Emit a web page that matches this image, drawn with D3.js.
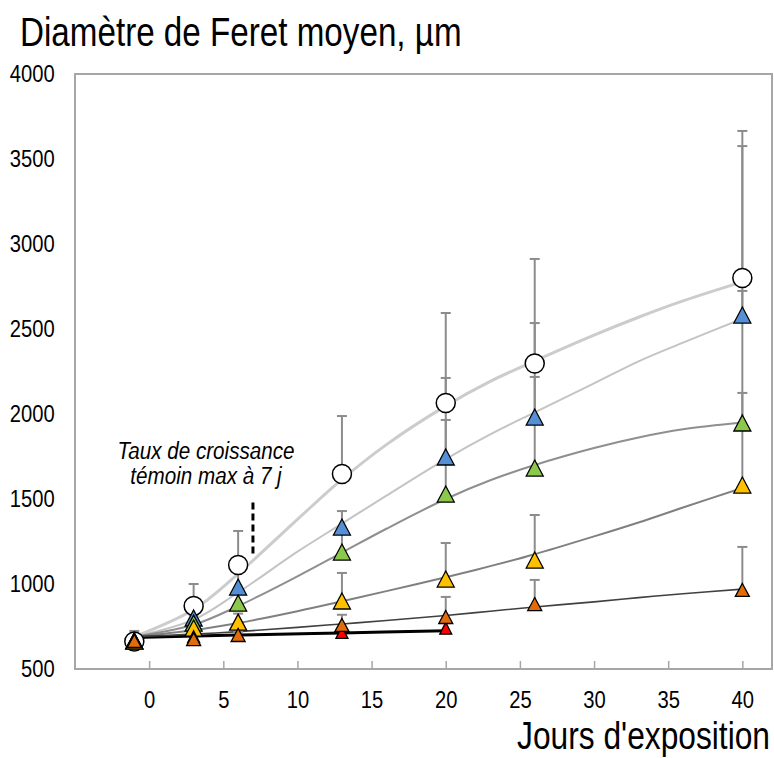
<!DOCTYPE html>
<html>
<head>
<meta charset="utf-8">
<script src="https://cdn.jsdelivr.net/npm/d3@7"></script>
<style>
  html, body { margin: 0; padding: 0; background: #fff; }
  svg { display: block; }
  text { font-family: "Liberation Sans", Arial, sans-serif; fill: #000; }
</style>
</head>
<body>
<svg id="chart" width="774" height="758"></svg>
<script>
// Sampling days and mean Feret diameter (µm) per condition
const days = [-1, 3, 6, 13, 20, 26, 40];
const daysRed = [-1, 3, 6, 13, 20];

const controlMean = [662, 871, 1112, 1647, 2065, 2297, 2800];
const blueMean    = [665, 800, 982, 1335, 1747, 1982, 2582];
const greenMean   = [665, 770, 888, 1188, 1529, 1682, 1947];
const yellowMean  = [665, 741, 776, 900, 1029, 1141, 1582];
const orangeMean  = [665, 676, 700, 759, 806, 882, 965];
const redMean     = [665, 690, 700, 715, 740];

// Upper error (standard deviation), plotted above each mean
const controlErr = [62, 129, 200, 341, 529, 615, 865];
const blueErr    = [30, 60, 100, 94, 465, 553, 994];
const greenErr   = [30, 50, 80, 120, 436, 536, 777];
const yellowErr  = [30, 40, 50, 165, 212, 265, 542];
const orangeErr  = [30, 30, 40, 60, 118, 142, 253];
const redErr     = [20, 20, 20, 20, 30];

// Fitted growth curves
const fitDays      = [-1, 3, 6, 10, 13, 16, 20, 23, 26, 30, 33, 36, 40];
const controlFit   = [690, 850, 1060, 1380, 1615, 1820, 2048, 2192, 2312, 2464, 2569, 2665, 2777];
const blueFit      = [690, 790, 950, 1190, 1355, 1520, 1735, 1880, 2010, 2180, 2310, 2420, 2560];
const greenFit     = [690, 760, 870, 1045, 1185, 1325, 1500, 1610, 1700, 1800, 1862, 1910, 1950];
const yellowFit    = [690, 728, 770, 840, 898, 958, 1040, 1105, 1175, 1280, 1362, 1450, 1565];
const orangeFit    = [690, 705, 720, 745, 765, 785, 815, 840, 865, 895, 920, 943, 970];
const redFitDays   = [-1, 6, 13, 20];
const redFit       = [685, 700, 712, 725];

// Axis ticks
const xTicks = [0, 5, 10, 15, 20, 25, 30, 35, 40];
const yTicks = [500, 1000, 1500, 2000, 2500, 3000, 3500, 4000];

// Annotation: day of maximal control growth rate
const markerDay = 7;
const markerRange = [1180, 1480];

const svg = d3.select("#chart");
const plotL = 75, plotR = 772, plotT = 74, plotB = 669;

const x = d3.scaleLinear().domain([-5, 42]).range([plotL, plotR]);
const y = d3.scaleLinear().domain([500, 4000]).range([plotB, plotT]);

// Narrow text: regular sans squeezed horizontally
const narrowTick = 0.86;

// Frame
svg.append("rect")
  .attr("x", plotL).attr("y", plotT)
  .attr("width", plotR - plotL).attr("height", plotB - plotT)
  .attr("fill", "#fff").attr("stroke", "#a6a6a6").attr("stroke-width", 2);

// X axis: ticks pointing inward, labels below
const xAxis = svg.append("g").attr("transform", `translate(0,${plotB})`)
  .call(d3.axisBottom(x).tickValues(xTicks).tickSizeInner(-8).tickSizeOuter(0).tickPadding(22));
xAxis.select(".domain").remove();
xAxis.selectAll(".tick line").attr("stroke", "#a6a6a6").attr("stroke-width", 1.5);
xAxis.selectAll(".tick text").attr("font-size", 23.5)
  .attr("transform", `scale(${narrowTick},1)`)
  .style("font-family", "'Liberation Sans', Arial, sans-serif");

// Y axis: labels only
const yAxis = svg.append("g").attr("transform", `translate(${plotL},0)`)
  .call(d3.axisLeft(y).tickValues(yTicks).tickSize(0).tickPadding(23.5).tickFormat(d3.format("d")));
yAxis.select(".domain").remove();
yAxis.selectAll(".tick text").attr("font-size", 23.5)
  .attr("transform", `scale(${narrowTick},1)`)
  .style("font-family", "'Liberation Sans', Arial, sans-serif");

// Titles
svg.append("text").attr("transform", "translate(20,46) scale(0.83,1)")
  .attr("font-size", 40).text("Diamètre de Feret moyen, µm");
svg.append("text").attr("transform", "translate(770,749) scale(0.835,1)")
  .attr("text-anchor", "end")
  .attr("font-size", 38).text("Jours d'exposition");

// Series definitions (listed in drawing order)
const control = { mean: controlMean, err: controlErr, d: days, fitD: fitDays, fit: controlFit,
    line: "#cccccc", lw: 3, shape: "circle", fill: "#ffffff", size: [19, 19] };
const blue = { mean: blueMean, err: blueErr, d: days, fitD: fitDays, fit: blueFit,
    line: "#c4c4c4", lw: 2, shape: "tri", fill: "#5590d6", size: [17, 16] };
const green = { mean: greenMean, err: greenErr, d: days, fitD: fitDays, fit: greenFit,
    line: "#8f8f8f", lw: 2, shape: "tri", fill: "#8cc84b", size: [17, 16] };
const yellow = { mean: yellowMean, err: yellowErr, d: days, fitD: fitDays, fit: yellowFit,
    line: "#808080", lw: 2, shape: "tri", fill: "#ffc000", size: [17, 16] };
const orange = { mean: orangeMean, err: orangeErr, d: days, fitD: fitDays, fit: orangeFit,
    line: "#404040", lw: 1.6, shape: "tri", fill: "#e36c0a", size: [14, 13] };
const red = { mean: redMean, err: redErr, d: daysRed, fitD: redFitDays, fit: redFit,
    line: "#000000", lw: 3, shape: "tri", fill: "#ff0000", size: [12, 12] };
const series = [control, blue, green, yellow, red, orange];

const lineGen = d3.line().x(p => x(p[0])).y(p => y(p[1])).curve(d3.curveCatmullRom.alpha(0.5));

// Fitted curves
const curves = svg.append("g");
series.forEach(s => {
  curves.append("path")
    .datum(s.fitD.map((dd, i) => [dd, s.fit[i]]))
    .attr("d", lineGen)
    .attr("fill", "none").attr("stroke", s.line).attr("stroke-width", s.lw)
    .attr("stroke-linecap", "round");
});

// Upper error bars
const errG = svg.append("g").attr("stroke", "#8c8c8c").attr("stroke-width", 2);
series.forEach(s => {
  s.d.forEach((dd, i) => {
    const cx = x(dd), y0 = y(s.mean[i]), y1 = y(s.mean[i] + s.err[i]);
    errG.append("line").attr("x1", cx).attr("x2", cx).attr("y1", y0).attr("y2", y1);
    errG.append("line").attr("x1", cx - 5).attr("x2", cx + 5).attr("y1", y1).attr("y2", y1);
  });
});

// Markers
const markG = svg.append("g");
series.forEach(s => {
  s.d.forEach((dd, i) => {
    const cx = x(dd), cy = y(s.mean[i]);
    if (s.shape === "circle") {
      markG.append("circle").attr("cx", cx).attr("cy", cy).attr("r", s.size[0] / 2)
        .attr("fill", s.fill).attr("stroke", "#000").attr("stroke-width", 1.5);
    } else {
      const w = s.size[0], h = s.size[1];
      markG.append("path")
        .attr("d", `M${cx},${cy - h / 2}L${cx + w / 2},${cy + h / 2}L${cx - w / 2},${cy + h / 2}Z`)
        .attr("fill", s.fill).attr("stroke", "#000").attr("stroke-width", 1.3)
        .attr("stroke-linejoin", "miter");
    }
  });
});

// Annotation
svg.append("line")
  .attr("x1", x(markerDay)).attr("x2", x(markerDay))
  .attr("y1", y(markerRange[1])).attr("y2", y(markerRange[0]))
  .attr("stroke", "#000").attr("stroke-width", 3).attr("stroke-dasharray", "7,4");
const ann = svg.append("text").attr("font-size", 24).attr("font-style", "italic")
  .attr("text-anchor", "middle").attr("transform", "translate(206,0) scale(0.86,1)");
ann.append("tspan").attr("x", 0).attr("y", 459).text("Taux de croissance");
ann.append("tspan").attr("x", 0).attr("y", 484).text("témoin max à 7 j");
</script>
</body>
</html>
